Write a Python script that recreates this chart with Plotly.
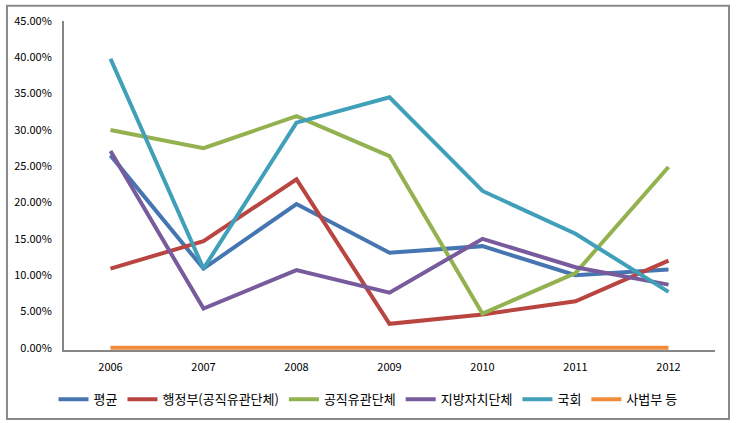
import plotly.graph_objects as go

years = ["2006", "2007", "2008", "2009", "2010", "2011", "2012"]

avg = [26.5, 10.9, 19.8, 13.1, 14.0, 10.0, 10.8]
executive = [10.9, 14.7, 23.2, 3.3, 4.6, 6.4, 12.0]
public_org = [30.0, 27.5, 31.9, 26.4, 4.7, 10.3, 24.9]
local_gov = [27.1, 5.4, 10.7, 7.6, 15.0, 11.1, 8.7]
assembly = [39.8, 10.9, 31.0, 34.5, 21.6, 15.7, 7.7]
judiciary = [0, 0, 0, 0, 0, 0, 0]

series = [
    ("평균", avg, "#4676B2"),
    ("행정부(공직유관단체)", executive, "#B94541"),
    ("공직유관단체", public_org, "#93B24F"),
    ("지방자치단체", local_gov, "#775B9C"),
    ("국회", assembly, "#409FB9"),
    ("사법부 등", judiciary, "#EE8C3C"),
]

font = "Noto Sans CJK KR"

fig = go.Figure()
for name, vals, color in series:
    fig.add_trace(go.Scatter(
        x=years, y=[v / 100 for v in vals], name=name, mode="lines",
        line=dict(color=color, width=4)
    ))

# plot area: x 64..715, y 21..350 (0% at ~348)
fig.update_layout(
    width=738, height=423,
    margin=dict(l=64, r=23, t=21, b=73, autoexpand=False),
    paper_bgcolor="white", plot_bgcolor="white",
    font=dict(family=font, size=11, color="#000000"),
    showlegend=True,
    legend=dict(orientation="h", x=0.467, xanchor="center", y=-0.15, yanchor="middle",
                font=dict(size=13), itemwidth=30, tracegroupgap=0),
    xaxis=dict(type="category", range=[-0.5, 6.5], showgrid=False, zeroline=False,
               showline=True, linecolor="#868686", linewidth=2, ticks="",
               ticklabelstandoff=6, automargin=False, layer="below traces"),
    yaxis=dict(range=[-0.003, 0.45], tickvals=[i * 0.05 for i in range(10)],
               tickformat=".2%", showgrid=False, zeroline=False,
               showline=True, linecolor="#868686", linewidth=2, ticks="",
               ticklabelstandoff=8, automargin=False, layer="below traces"),
    shapes=[dict(type="rect", xref="paper", yref="paper",
                 x0=-0.0876, x1=1.0215, y0=-0.21, y1=1.046,
                 line=dict(color="#898989", width=2), layer="below")],
)

fig.write_html("out.html", config={"displayModeBar": False},
               post_script="document.body.style.margin='0';")
